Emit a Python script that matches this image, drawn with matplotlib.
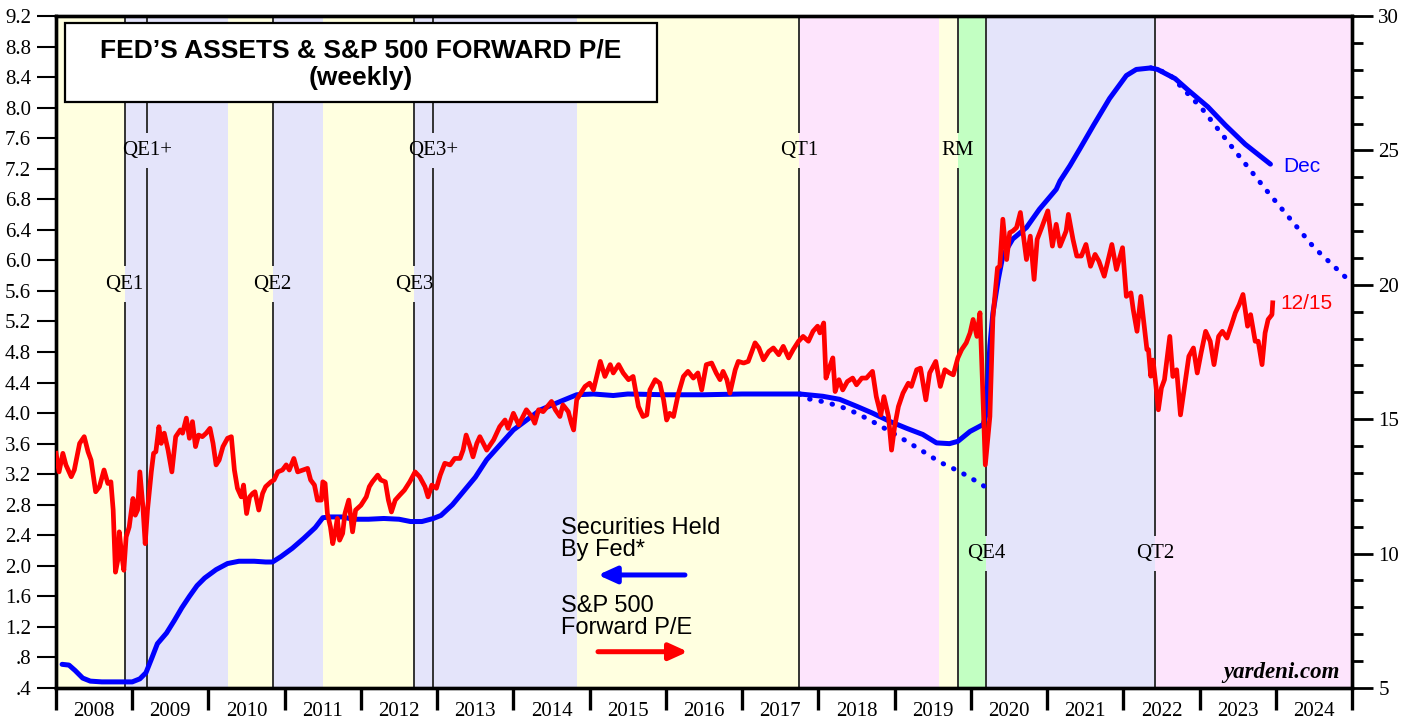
import numpy as np
import matplotlib
matplotlib.use("Agg")
import matplotlib.pyplot as plt
import matplotlib.ticker as mticker
from matplotlib.patches import Rectangle

# ---- data ----
# Securities held by Fed, $ trillions (left axis)
fed_dates = [2008.08, 2008.17, 2008.25, 2008.35, 2008.45, 2008.60, 2008.80, 2009.00,
             2009.10, 2009.18, 2009.26, 2009.33, 2009.45, 2009.55, 2009.65, 2009.75,
             2009.85, 2009.95, 2010.10, 2010.25, 2010.40, 2010.60, 2010.75, 2010.84,
             2010.95, 2011.10, 2011.25, 2011.40, 2011.50, 2011.60, 2011.75, 2011.90,
             2012.10, 2012.30, 2012.50, 2012.65, 2012.80, 2012.95, 2013.05, 2013.20,
             2013.35, 2013.50, 2013.65, 2014.00, 2014.35, 2014.61, 2014.83, 2015.05,
             2015.31, 2015.50, 2016.00, 2016.50, 2017.00, 2017.50, 2017.76, 2018.06,
             2018.28, 2018.50, 2018.71, 2018.94, 2019.16, 2019.37, 2019.55, 2019.72,
             2019.83, 2019.99, 2020.16, 2020.20, 2020.25, 2020.29, 2020.36, 2020.42,
             2020.55, 2020.73, 2020.90, 2021.12, 2021.17, 2021.30, 2021.43, 2021.61,
             2021.82, 2022.04, 2022.17, 2022.36, 2022.45, 2022.68, 2022.85, 2023.11,
             2023.34, 2023.60, 2023.93]
fed_vals = [0.71, 0.70, 0.63, 0.53, 0.49, 0.48, 0.48, 0.48,
            0.52, 0.60, 0.80, 0.98, 1.12, 1.28, 1.45, 1.60,
            1.74, 1.84, 1.95, 2.03, 2.06, 2.06, 2.05, 2.05,
            2.12, 2.23, 2.36, 2.50, 2.63, 2.64, 2.64, 2.61,
            2.61, 2.62, 2.61, 2.58, 2.58, 2.62, 2.66, 2.80,
            2.98, 3.16, 3.39, 3.78, 4.04, 4.15, 4.24, 4.25,
            4.23, 4.25, 4.24, 4.24, 4.25, 4.25, 4.25, 4.22,
            4.18, 4.09, 4.00, 3.89, 3.80, 3.72, 3.61, 3.60,
            3.63, 3.76, 3.85, 3.98, 4.88, 5.31, 5.75, 6.06,
            6.28, 6.43, 6.67, 6.93, 7.04, 7.24, 7.46, 7.77,
            8.12, 8.42, 8.50, 8.52, 8.50, 8.38, 8.23, 8.01,
            7.77, 7.52, 7.26]

# QT1 runoff path (dotted)
qt1_dates = [2017.76, 2017.80, 2018.06, 2018.28, 2018.50, 2018.71, 2018.94, 2019.16,
             2019.37, 2019.59, 2019.86, 2020.12, 2020.25]
qt1_vals = [4.25, 4.20, 4.15, 4.09, 4.00, 3.89, 3.76, 3.63, 3.50, 3.36, 3.23, 3.08, 2.99]

# QT2 runoff path (dotted)
qt2_dates = [2022.36, 2022.59, 2023.03, 2023.46, 2023.90, 2024.50, 2025.00]
qt2_vals = [8.52, 8.45, 7.99, 7.44, 6.89, 6.17, 5.70]

# S&P 500 forward P/E (right axis)
pe_dates = [2008.00, 2008.04, 2008.09, 2008.13, 2008.20, 2008.24, 2008.31, 2008.37, 2008.42, 2008.46,
            2008.52, 2008.57, 2008.63, 2008.68, 2008.72, 2008.75, 2008.78, 2008.81, 2008.83, 2008.86,
            2008.89, 2008.92, 2008.96, 2009.01, 2009.04, 2009.07, 2009.10, 2009.14, 2009.17, 2009.20,
            2009.25, 2009.28, 2009.31, 2009.35, 2009.38, 2009.42, 2009.47, 2009.52, 2009.57, 2009.63,
            2009.66, 2009.71, 2009.75, 2009.79, 2009.83, 2009.87, 2009.92, 2009.97, 2010.02, 2010.06,
            2010.10, 2010.14, 2010.19, 2010.25, 2010.30, 2010.34, 2010.38, 2010.43, 2010.46, 2010.50,
            2010.54, 2010.58, 2010.61, 2010.66, 2010.71, 2010.75, 2010.82, 2010.86, 2010.91, 2010.97,
            2011.02, 2011.06, 2011.12, 2011.17, 2011.24, 2011.30, 2011.34, 2011.39, 2011.43, 2011.48,
            2011.50, 2011.53, 2011.56, 2011.60, 2011.63, 2011.66, 2011.69, 2011.72, 2011.76, 2011.79,
            2011.84, 2011.89, 2011.93, 2012.00, 2012.07, 2012.11, 2012.15, 2012.22, 2012.26, 2012.32,
            2012.36, 2012.40, 2012.45, 2012.51, 2012.57, 2012.64, 2012.71, 2012.77, 2012.84, 2012.88,
            2012.93, 2012.99, 2013.04, 2013.10, 2013.17, 2013.23, 2013.30, 2013.34, 2013.38, 2013.43,
            2013.47, 2013.52, 2013.56, 2013.65, 2013.74, 2013.82, 2013.89, 2013.93, 2014.00, 2014.07,
            2014.17, 2014.24, 2014.28, 2014.33, 2014.39, 2014.50, 2014.55, 2014.61, 2014.65, 2014.72,
            2014.76, 2014.79, 2014.83, 2014.87, 2014.94, 2015.00, 2015.05, 2015.14, 2015.20, 2015.27,
            2015.31, 2015.38, 2015.44, 2015.51, 2015.57, 2015.64, 2015.70, 2015.75, 2015.79, 2015.86,
            2015.92, 2015.97, 2016.01, 2016.05, 2016.10, 2016.16, 2016.23, 2016.29, 2016.36, 2016.42,
            2016.47, 2016.53, 2016.60, 2016.66, 2016.71, 2016.75, 2016.80, 2016.84, 2016.91, 2016.95,
            2017.02, 2017.08, 2017.17, 2017.22, 2017.28, 2017.35, 2017.41, 2017.48, 2017.54, 2017.61,
            2017.67, 2017.74, 2017.80, 2017.87, 2017.93, 2017.99, 2018.02, 2018.07, 2018.10, 2018.15,
            2018.19, 2018.22, 2018.27, 2018.32, 2018.38, 2018.45, 2018.50, 2018.57, 2018.63, 2018.71,
            2018.76, 2018.82, 2018.86, 2018.92, 2018.96, 2019.00, 2019.05, 2019.11, 2019.18, 2019.22,
            2019.29, 2019.34, 2019.41, 2019.46, 2019.54, 2019.60, 2019.66, 2019.72, 2019.77, 2019.83,
            2019.88, 2019.94, 2019.99, 2020.03, 2020.08, 2020.12, 2020.15, 2020.19, 2020.22, 2020.25,
            2020.29, 2020.35, 2020.38, 2020.42, 2020.47, 2020.51, 2020.55, 2020.60, 2020.65, 2020.73,
            2020.78, 2020.83, 2020.87, 2020.93, 2021.01, 2021.07, 2021.12, 2021.17, 2021.25, 2021.28,
            2021.34, 2021.39, 2021.45, 2021.51, 2021.57, 2021.63, 2021.68, 2021.75, 2021.85, 2021.91,
            2021.99, 2022.04, 2022.10, 2022.13, 2022.18, 2022.23, 2022.31, 2022.33, 2022.36, 2022.39,
            2022.43, 2022.46, 2022.50, 2022.54, 2022.61, 2022.65, 2022.70, 2022.75, 2022.81, 2022.86,
            2022.92, 2022.97, 2023.02, 2023.08, 2023.14, 2023.19, 2023.25, 2023.30, 2023.36, 2023.42,
            2023.47, 2023.52, 2023.57, 2023.63, 2023.67, 2023.73, 2023.77, 2023.82, 2023.86, 2023.90,
            2023.95, 2023.96]
pe_vals = [13.73, 13.04, 13.73, 13.30, 12.86, 13.11, 14.10, 14.35, 13.79, 13.48,
           12.30, 12.49, 13.11, 12.61, 12.67, 11.62, 9.31, 9.75, 10.81, 10.00,
           9.38, 10.62, 10.99, 12.05, 11.43, 11.62, 13.04, 11.74, 10.37, 11.62,
           13.04, 13.73, 13.79, 14.72, 14.10, 14.48, 13.85, 13.04, 14.35, 14.60,
           14.48, 15.04, 14.29, 14.91, 13.98, 14.41, 14.35, 14.48, 14.66, 14.10,
           13.30, 13.48, 13.98, 14.29, 14.35, 13.11, 12.43, 12.11, 12.55, 11.49,
           12.11, 12.24, 12.30, 11.62, 12.24, 12.49, 12.67, 12.74, 13.04, 13.11,
           13.30, 13.11, 13.54, 13.04, 13.11, 13.17, 12.74, 12.55, 11.99, 11.99,
           12.67, 12.61, 11.49, 10.99, 10.37, 10.75, 11.31, 10.50, 10.75, 11.49,
           11.99, 10.81, 11.62, 11.80, 12.11, 12.49, 12.67, 12.92, 12.74, 12.67,
           11.99, 11.55, 11.99, 12.18, 12.36, 12.67, 13.04, 12.86, 12.49, 12.11,
           12.55, 12.43, 12.92, 13.36, 13.30, 13.54, 13.54, 13.85, 14.41, 14.00,
           13.60, 14.10, 14.35, 13.85, 14.23, 14.72, 14.97, 14.66, 15.22, 14.79,
           15.35, 15.10, 14.85, 15.35, 15.28, 15.66, 15.35, 15.10, 15.53, 15.28,
           14.85, 14.60, 15.72, 15.91, 16.22, 16.34, 16.09, 17.15, 16.59, 17.03,
           16.72, 17.03, 16.72, 16.47, 16.59, 15.47, 15.10, 15.16, 16.09, 16.47,
           16.34, 15.72, 14.97, 15.22, 15.10, 15.91, 16.59, 16.78, 16.53, 16.72,
           16.09, 17.03, 17.09, 16.72, 16.47, 16.78, 16.47, 15.97, 16.84, 17.15,
           17.09, 17.15, 17.84, 17.65, 17.21, 17.52, 17.65, 17.40, 17.71, 17.28,
           17.59, 17.90, 18.08, 17.90, 18.27, 18.46, 18.21, 18.58, 16.53, 16.96,
           17.28, 16.03, 16.47, 16.09, 16.40, 16.53, 16.28, 16.53, 16.53, 16.78,
           15.84, 15.16, 15.84, 15.10, 13.85, 14.72, 15.47, 15.97, 16.34, 16.22,
           16.84, 16.90, 15.72, 16.72, 17.15, 16.22, 16.84, 16.72, 16.65, 17.28,
           17.59, 17.84, 18.21, 18.71, 18.08, 18.96, 16.59, 13.30, 14.20, 15.10,
           18.80, 20.63, 20.69, 22.44, 20.94, 21.94, 22.00, 22.13, 22.69, 20.94,
           21.81, 20.20, 21.69, 22.13, 22.75, 21.44, 22.25, 21.44, 22.00, 22.62,
           21.69, 21.07, 21.07, 21.50, 20.69, 21.13, 20.88, 20.32, 21.50, 20.57,
           21.38, 19.57, 19.70, 19.08, 18.27, 19.57, 17.59, 17.59, 16.60, 17.20,
           16.20, 15.35, 16.16, 16.47, 18.08, 16.59, 16.84, 15.16, 16.34, 17.34,
           17.65, 16.72, 17.46, 18.27, 17.90, 17.03, 18.08, 18.27, 18.02, 18.52,
           18.96, 19.26, 19.64, 18.46, 18.89, 17.90, 17.90, 17.03, 18.21, 18.71,
           18.89, 19.33]

# policy events
events = ["QE1", "QE1+", "QE2", "QE3", "QE3+", "QT1", "RM", "QE4", "QT2"]
event_dates = [2008.90, 2009.20, 2010.84, 2012.70, 2012.95, 2017.75, 2019.83, 2020.20, 2022.42]

# shaded regimes
shade_starts = [2008.00, 2008.90, 2010.26, 2010.84, 2011.50, 2012.70, 2014.83, 2017.75, 2019.58, 2019.83, 2020.20, 2022.42]
shade_ends = [2008.90, 2010.26, 2010.84, 2011.50, 2012.70, 2014.83, 2017.75, 2019.58, 2019.83, 2020.20, 2022.42, 2025.00]
shade_kinds = ["none", "qe", "none", "qe", "none", "qe", "none", "qt", "none", "rm", "qe", "qt"]

years = list(range(2008, 2025))

# ---- drawing ----
SERIF = "Liberation Serif"
SANS = "Liberation Sans"
shade_colors = {"none": "#ffffe0", "qe": "#e4e4fa", "qt": "#fde4fc", "rm": "#c2ffc2"}

fig = plt.figure(figsize=(14.12, 7.19), dpi=100)
ax = fig.add_axes([56 / 1412, 1 - 688 / 719, 1296 / 1412, 672 / 719])
ax2 = ax.twinx()

ax.set_xlim(2008, 2025)
ax.set_ylim(0.4, 9.2)
ax2.set_ylim(5, 30)

for s, e, k in zip(shade_starts, shade_ends, shade_kinds):
    ax.axvspan(s, e, color=shade_colors[k], lw=0, zorder=0)

# event lines with a gap where the label sits
label_y = {"QE1": 5.69, "QE1+": 7.44, "QE2": 5.69, "QE3": 5.69, "QE3+": 7.44,
           "QT1": 7.44, "RM": 7.44, "QE4": 2.16, "QT2": 2.16}
gap = 0.23
for name, d in zip(events, event_dates):
    yl = label_y[name]
    ax.vlines(d, 0.4, yl - gap, color="#333333", lw=1.4, zorder=1)
    ax.vlines(d, yl + gap, 9.2, color="#333333", lw=1.4, zorder=1)
    ax.text(d, yl, name, ha="center", va="center", fontsize=15, family=SERIF, zorder=2)

ax.plot(qt1_dates, qt1_vals, color="blue", lw=3.6, ls=(0, (0.1, 2.2)),
        dash_capstyle="round", zorder=3)
ax.plot(qt2_dates, qt2_vals, color="blue", lw=3.6, ls=(0, (0.1, 2.2)),
        dash_capstyle="round", zorder=3, clip_on=False)
ax.plot(fed_dates, fed_vals, color="blue", lw=3.6, solid_capstyle="round",
        solid_joinstyle="round", zorder=4)

ax2.plot(pe_dates, pe_vals, color="red", lw=3.4, solid_joinstyle="round", zorder=3)

# axes styling
for a in (ax, ax2):
    for sp in a.spines.values():
        sp.set_linewidth(2.4)

ax.xaxis.set_major_locator(mticker.FixedLocator(years + [2025]))
ax.xaxis.set_minor_locator(mticker.FixedLocator([y + 0.5 for y in years]))
ax.xaxis.set_major_formatter(mticker.NullFormatter())
ax.xaxis.set_minor_formatter(mticker.FixedFormatter([str(y) for y in years]))
ax.tick_params(axis="x", which="major", direction="out", length=16, width=2.4)
ax.tick_params(axis="x", which="minor", length=0, pad=10)

left_ticks = np.round(np.arange(0.4, 9.21, 0.4), 1)
ax.yaxis.set_major_locator(mticker.FixedLocator(left_ticks))
ax.yaxis.set_major_formatter(mticker.FuncFormatter(lambda v, p: f"{v:.1f}".lstrip("0")))
ax.tick_params(axis="y", direction="out", length=14, width=1.5, pad=4)

ax2.yaxis.set_major_locator(mticker.MultipleLocator(5))
ax2.yaxis.set_minor_locator(mticker.MultipleLocator(1))
ax2.tick_params(axis="y", which="major", direction="out", length=15, width=2, pad=4)
ax2.tick_params(axis="y", which="minor", direction="out", length=8, width=2)

for lab in ax.get_xticklabels(minor=True) + ax.get_yticklabels() + ax2.get_yticklabels():
    lab.set_family(SERIF)
    lab.set_fontsize(15)

# title box
ax2.add_patch(Rectangle((0.0069, 0.872), 0.4568, 0.1176, transform=ax2.transAxes,
                        facecolor="white", edgecolor="black", lw=1.6, zorder=10))
ax2.text(0.235, 0.949, "FED\u2019S ASSETS & S&P 500 FORWARD P/E", transform=ax2.transAxes,
         ha="center", va="center", fontsize=19, fontweight="bold", family=SANS, zorder=11)
ax2.text(0.235, 0.908, "(weekly)", transform=ax2.transAxes,
         ha="center", va="center", fontsize=19, fontweight="bold", family=SANS, zorder=11)

# legend-style notes with arrows
ax2.text(0.3894, 0.2545, "Securities Held\nBy Fed*", transform=ax2.transAxes, ha="left",
         va="top", fontsize=17, family=SANS, linespacing=1.0, zorder=11)
ax2.annotate("", xy=(0.4182, 0.1682), xytext=(0.4853, 0.1682), xycoords="axes fraction",
             arrowprops=dict(arrowstyle="-|>,head_length=0.55,head_width=0.25", color="blue",
                             lw=3.6, mutation_scale=20, shrinkA=0, shrinkB=0), zorder=11)
ax2.text(0.3894, 0.1384, "S&P 500\nForward P/E", transform=ax2.transAxes, ha="left",
         va="top", fontsize=17, family=SANS, linespacing=1.0, zorder=11)
ax2.annotate("", xy=(0.4875, 0.054), xytext=(0.4182, 0.054), xycoords="axes fraction",
             arrowprops=dict(arrowstyle="-|>,head_length=0.55,head_width=0.25", color="red",
                             lw=3.6, mutation_scale=20, shrinkA=0, shrinkB=0), zorder=11)

ax2.text(0.9468, 0.7757, "Dec", transform=ax2.transAxes, ha="left", va="center",
         fontsize=15, family=SANS, color="blue")
ax2.text(0.9444, 0.5725, "12/15", transform=ax2.transAxes, ha="left", va="center",
         fontsize=15, family=SANS, color="red")
ax2.text(0.9907, 0.0149, "yardeni.com", transform=ax2.transAxes, ha="right", va="baseline",
         fontsize=16.5, family=SERIF, fontweight="bold", style="italic")

fig.savefig("out.png", dpi=100)
